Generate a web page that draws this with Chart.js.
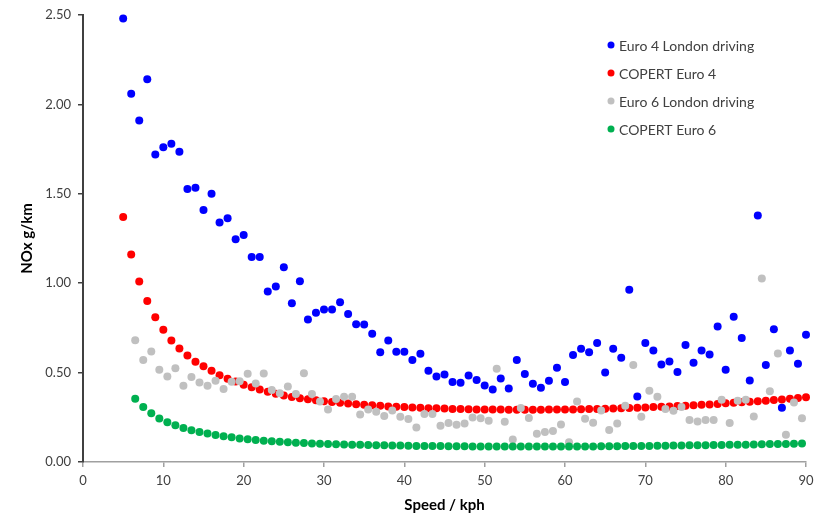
<!DOCTYPE html>
<html>
<head>
<meta charset="utf-8">
<title>NOx g/km vs speed</title>
<script src="https://cdn.jsdelivr.net/npm/chart.js@4"></script>
<style>
  html, body { margin: 0; padding: 0; background: #fff; }
  #wrap { width: 825px; height: 517px; }
</style>
</head>
<body>
<div id="wrap"><canvas id="chart" width="825" height="517"></canvas></div>
<script>
// Speeds (kph) for the Euro 4 series
const speedsEuro4 = [
  5, 6, 7, 8, 9, 10, 11, 12, 13, 14, 15, 16, 17, 18, 19, 20, 21, 22, 23, 24,
  25, 26, 27, 28, 29, 30, 31, 32, 33, 34, 35, 36, 37, 38, 39, 40, 41, 42, 43, 44,
  45, 46, 47, 48, 49, 50, 51, 52, 53, 54, 55, 56, 57, 58, 59, 60, 61, 62, 63, 64,
  65, 66, 67, 68, 69, 70, 71, 72, 73, 74, 75, 76, 77, 78, 79, 80, 81, 82, 83, 84,
  85, 86, 87, 88, 89, 90,
];

// Speeds (kph) for the Euro 6 series
const speedsEuro6 = [
  6.5, 7.5, 8.5, 9.5, 10.5, 11.5, 12.5, 13.5, 14.5, 15.5, 16.5, 17.5, 18.5, 19.5,
  20.5, 21.5, 22.5, 23.5, 24.5, 25.5, 26.5, 27.5, 28.5, 29.5, 30.5, 31.5, 32.5,
  33.5, 34.5, 35.5, 36.5, 37.5, 38.5, 39.5, 40.5, 41.5, 42.5, 43.5, 44.5, 45.5,
  46.5, 47.5, 48.5, 49.5, 50.5, 51.5, 52.5, 53.5, 54.5, 55.5, 56.5, 57.5, 58.5,
  59.5, 60.5, 61.5, 62.5, 63.5, 64.5, 65.5, 66.5, 67.5, 68.5, 69.5, 70.5, 71.5,
  72.5, 73.5, 74.5, 75.5, 76.5, 77.5, 78.5, 79.5, 80.5, 81.5, 82.5, 83.5, 84.5,
  85.5, 86.5, 87.5, 88.5, 89.5,
];

// Euro 4 London driving
const euro4London = [
  2.48, 2.06, 1.91, 2.14, 1.72, 1.76, 1.78, 1.735, 1.527, 1.534, 1.41, 1.50,
  1.34, 1.363, 1.246, 1.27, 1.147, 1.147, 0.953, 0.981, 1.089, 0.888, 1.011,
  0.797, 0.835, 0.853, 0.853, 0.894, 0.828, 0.771, 0.769, 0.717, 0.614, 0.679,
  0.616, 0.616, 0.570, 0.605, 0.510, 0.478, 0.489, 0.447, 0.443, 0.484, 0.458,
  0.428, 0.406, 0.467, 0.411, 0.571, 0.492, 0.437, 0.415, 0.454, 0.527, 0.447,
  0.598, 0.633, 0.614, 0.666, 0.501, 0.633, 0.583, 0.963, 0.367, 0.665, 0.624,
  0.545, 0.562, 0.504, 0.654, 0.555, 0.624, 0.601, 0.758, 0.516, 0.813, 0.693,
  0.456, 1.378, 0.542, 0.743, 0.303, 0.624, 0.549, 0.711,
];

// COPERT Euro 4
const copertEuro4 = [
  1.37, 1.16, 1.01, 0.90, 0.81, 0.74, 0.68, 0.635, 0.595, 0.56, 0.535, 0.51,
  0.485, 0.465, 0.45, 0.432, 0.418, 0.405, 0.393, 0.382, 0.372, 0.364, 0.357,
  0.351, 0.345, 0.34, 0.335, 0.331, 0.327, 0.323, 0.32, 0.317, 0.314, 0.311,
  0.309, 0.307, 0.305, 0.303, 0.301, 0.30, 0.299, 0.297, 0.296, 0.295, 0.294,
  0.294, 0.293, 0.293, 0.292, 0.292, 0.292, 0.292, 0.292, 0.293, 0.293, 0.294,
  0.294, 0.295, 0.296, 0.297, 0.298, 0.299, 0.30, 0.302, 0.303, 0.305, 0.307,
  0.309, 0.311, 0.313, 0.315, 0.317, 0.32, 0.322, 0.325, 0.328, 0.331, 0.334,
  0.337, 0.34, 0.343, 0.347, 0.35, 0.354, 0.358, 0.362,
];

// Euro 6 London driving
const euro6London = [
  0.681, 0.571, 0.618, 0.516, 0.478, 0.525, 0.426, 0.475, 0.445, 0.426, 0.454,
  0.408, 0.449, 0.452, 0.493, 0.439, 0.495, 0.402, 0.385, 0.422, 0.381, 0.496,
  0.380, 0.339, 0.294, 0.352, 0.365, 0.365, 0.266, 0.294, 0.281, 0.257, 0.288,
  0.253, 0.240, 0.193, 0.268, 0.268, 0.203, 0.218, 0.208, 0.216, 0.249, 0.244,
  0.231, 0.521, 0.225, 0.126, 0.302, 0.246, 0.158, 0.168, 0.174, 0.210, 0.110,
  0.339, 0.242, 0.220, 0.288, 0.179, 0.216, 0.315, 0.542, 0.253, 0.398, 0.365,
  0.296, 0.287, 0.307, 0.235, 0.227, 0.235, 0.235, 0.348, 0.218, 0.342, 0.348,
  0.255, 1.026, 0.395, 0.607, 0.153, 0.333, 0.244,
];

// COPERT Euro 6
const copertEuro6 = [
  0.354, 0.307, 0.272, 0.243, 0.222, 0.205, 0.19, 0.178, 0.168, 0.159, 0.151,
  0.144, 0.138, 0.132, 0.127, 0.123, 0.119, 0.116, 0.113, 0.11, 0.108, 0.106,
  0.104, 0.102, 0.101, 0.099, 0.098, 0.097, 0.096, 0.095, 0.094, 0.093, 0.092,
  0.092, 0.091, 0.09, 0.09, 0.089, 0.089, 0.088, 0.088, 0.088, 0.087, 0.087,
  0.087, 0.087, 0.086, 0.086, 0.086, 0.086, 0.086, 0.086, 0.086, 0.086, 0.087,
  0.087, 0.087, 0.087, 0.088, 0.088, 0.088, 0.089, 0.089, 0.09, 0.09, 0.091,
  0.091, 0.092, 0.092, 0.093, 0.093, 0.094, 0.095, 0.095, 0.096, 0.097, 0.097,
  0.098, 0.099, 0.1, 0.1, 0.101, 0.102, 0.103,
];

const seriesLabels = [
  'Euro 4 London driving',
  'COPERT Euro 4',
  'Euro 6 London driving',
  'COPERT Euro 6',
];

const xTitle = 'Speed / kph';
const yTitle = 'NOx g/km';

const FONT = 'Lato, "Open Sans", sans-serif';
const TEXT = '#404040';

function toPoints(xs, ys) {
  return ys.map((y, i) => ({x: xs[i], y: y}));
}

// Legend drawn inside the plot, top right
const insideLegend = {
  id: 'insideLegend',
  afterDraw(chart) {
    const ctx = chart.ctx;
    ctx.save();
    ctx.font = '14px ' + FONT;
    ctx.textBaseline = 'middle';
    ctx.textAlign = 'left';
    chart.data.datasets.forEach((ds, i) => {
      const y = 45 + i * 28;
      ctx.fillStyle = ds.backgroundColor;
      ctx.beginPath();
      ctx.arc(611, y, 3.5, 0, Math.PI * 2);
      ctx.fill();
      ctx.fillStyle = TEXT;
      ctx.fillText(ds.label, 619, y + 1);
    });
    ctx.restore();
  },
};

const colors = ['#0000ff', '#ff0000', '#c0c0c0', '#00b050'];

function makeDataset(i, xs, ys) {
  return {
    label: seriesLabels[i],
    data: toPoints(xs, ys),
    backgroundColor: colors[i],
    borderWidth: 0,
    pointRadius: 4,
    pointHoverRadius: 4,
    showLine: false,
    clip: false,
    order: 3 - i, // later series on top, like the original
  };
}

new Chart(document.getElementById('chart'), {
  type: 'scatter',
  data: {
    datasets: [
      makeDataset(0, speedsEuro4, euro4London),
      makeDataset(1, speedsEuro4, copertEuro4),
      makeDataset(2, speedsEuro6, euro6London),
      makeDataset(3, speedsEuro6, copertEuro6),
    ],
  },
  options: {
    responsive: false,
    animation: false,
    layout: {padding: {top: 15, right: 19, left: 0, bottom: 0}},
    plugins: {
      legend: {display: false},
      tooltip: {enabled: false},
    },
    scales: {
      x: {
        type: 'linear',
        min: 0,
        max: 90,
        afterFit: (scale) => {
          scale.height = 55;
        },
        ticks: {
          stepSize: 10,
          padding: 6,
          color: TEXT,
          font: {family: FONT, size: 13},
        },
        grid: {
          drawOnChartArea: false,
          drawTicks: true,
          tickLength: 5,
          color: '#a0a0a0',
          lineWidth: 1.5,
        },
        border: {display: true, color: '#a0a0a0', width: 1.5},
        title: {
          display: true,
          text: xTitle,
          color: '#000',
          font: {family: FONT, size: 15, weight: 'bold'},
          padding: {top: 0, bottom: 3},
        },
      },
      y: {
        type: 'linear',
        min: 0,
        max: 2.5,
        afterFit: (scale) => {
          scale.width = 83;
        },
        ticks: {
          stepSize: 0.5,
          padding: 7,
          color: TEXT,
          font: {family: FONT, size: 13},
          callback: (v) => v.toFixed(2),
        },
        grid: {
          drawOnChartArea: false,
          drawTicks: true,
          tickLength: 5,
          color: '#404040',
          lineWidth: 1.5,
        },
        border: {display: true, color: '#404040', width: 2},
        title: {
          display: true,
          text: yTitle,
          color: '#000',
          font: {family: FONT, size: 15, weight: 'bold'},
          padding: {top: 18, bottom: 0},
        },
      },
    },
  },
  plugins: [insideLegend],
});
</script>
</body>
</html>
